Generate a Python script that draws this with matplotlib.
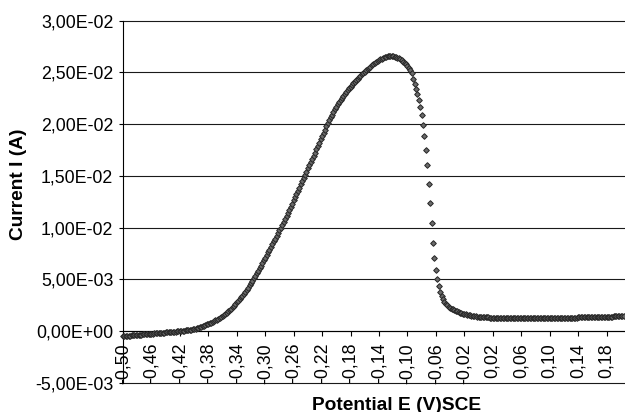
import numpy as np
import matplotlib
matplotlib.use("Agg")
import matplotlib.pyplot as plt

plt.rcParams['font.family'] = ['Liberation Sans', 'DejaVu Sans']

# Potential sweep: start and step of the recorded grid (V)
E_START = -0.500
E_STEP = 0.002

# Current, in mA (one value per sweep point)
current_mA = [
    # -0.500 .. -0.402
    -0.50, -0.49, -0.48, -0.46, -0.45, -0.44, -0.43, -0.42, -0.40, -0.39,
    -0.38, -0.37, -0.36, -0.34, -0.33, -0.32, -0.31, -0.30, -0.28, -0.27,
    -0.26, -0.25, -0.24, -0.22, -0.21, -0.20, -0.19, -0.18, -0.16, -0.15,
    -0.14, -0.13, -0.12, -0.10, -0.09, -0.08, -0.07, -0.05, -0.04, -0.03,
    -0.01, 0.01, 0.02, 0.04, 0.06, 0.08, 0.10, 0.12, 0.14, 0.17,
    # -0.400 .. -0.302
    0.20, 0.24, 0.28, 0.32, 0.37, 0.42, 0.47, 0.53, 0.58, 0.64,
    0.70, 0.76, 0.82, 0.88, 0.95, 1.02, 1.10, 1.18, 1.27, 1.36,
    1.45, 1.55, 1.66, 1.78, 1.90, 2.02, 2.16, 2.30, 2.45, 2.60,
    2.76, 2.92, 3.08, 3.25, 3.43, 3.62, 3.81, 4.00, 4.20, 4.41,
    4.62, 4.85, 5.08, 5.32, 5.57, 5.82, 6.07, 6.32, 6.57, 6.82,
    # -0.300 .. -0.202
    7.08, 7.34, 7.60, 7.87, 8.13, 8.40, 8.66, 8.93, 9.19, 9.46,
    9.72, 10.00, 10.28, 10.56, 10.84, 11.12, 11.42, 11.72, 12.02, 12.32,
    12.62, 12.93, 13.24, 13.56, 13.87, 14.18, 14.49, 14.80, 15.10, 15.41,
    15.72, 16.03, 16.33, 16.64, 16.94, 17.25, 17.57, 17.89, 18.21, 18.53,
    18.85, 19.16, 19.47, 19.78, 20.08, 20.38, 20.66, 20.93, 21.19, 21.44,
    # -0.200 .. -0.102
    21.68, 21.91, 22.13, 22.34, 22.54, 22.74, 22.93, 23.11, 23.29, 23.46,
    23.62, 23.78, 23.94, 24.09, 24.24, 24.38, 24.52, 24.66, 24.80, 24.94,
    25.08, 25.21, 25.33, 25.45, 25.57, 25.68, 25.79, 25.89, 25.99, 26.09,
    26.18, 26.26, 26.34, 26.41, 26.48, 26.53, 26.57, 26.60, 26.61, 26.60,
    26.57, 26.53, 26.48, 26.42, 26.35, 26.26, 26.16, 26.04, 25.91, 25.77,
    # -0.100 .. -0.002
    25.61, 25.44, 25.25, 24.90, 24.40, 23.90, 23.40, 22.90, 22.30, 21.62,
    20.85, 19.95, 18.85, 17.50, 16.00, 14.25, 12.35, 10.40, 8.55, 7.05,
    5.90, 5.05, 4.35, 3.80, 3.38, 3.05, 2.80, 2.62, 2.48, 2.36,
    2.26, 2.17, 2.09, 2.02, 1.95, 1.89, 1.83, 1.78, 1.73, 1.68,
    1.64, 1.60, 1.57, 1.54, 1.51, 1.49, 1.46, 1.44, 1.42, 1.40,
    # 0.000 .. 0.098
    1.38, 1.37, 1.36, 1.35, 1.34, 1.33, 1.32, 1.31, 1.30, 1.30,
    1.29, 1.29, 1.28, 1.28, 1.27, 1.27, 1.27, 1.26, 1.26, 1.26,
    1.26, 1.25, 1.25, 1.25, 1.25, 1.25, 1.25, 1.25, 1.25, 1.25,
    1.25, 1.25, 1.25, 1.25, 1.25, 1.25, 1.25, 1.25, 1.25, 1.25,
    1.25, 1.25, 1.25, 1.25, 1.26, 1.26, 1.26, 1.26, 1.26, 1.26,
    # 0.100 .. 0.204
    1.26, 1.26, 1.26, 1.27, 1.27, 1.27, 1.27, 1.27, 1.28, 1.28,
    1.28, 1.28, 1.28, 1.29, 1.29, 1.29, 1.29, 1.30, 1.30, 1.30,
    1.31, 1.31, 1.31, 1.32, 1.32, 1.32, 1.33, 1.33, 1.33, 1.34,
    1.34, 1.35, 1.35, 1.35, 1.36, 1.36, 1.37, 1.37, 1.38, 1.38,
    1.38, 1.39, 1.39, 1.40, 1.40, 1.41, 1.41, 1.41, 1.42, 1.42,
    1.43, 1.43, 1.43,
]

x_ticks = [-0.50, -0.46, -0.42, -0.38, -0.34, -0.30, -0.26, -0.22, -0.18,
           -0.14, -0.10, -0.06, -0.02, 0.02, 0.06, 0.10, 0.14, 0.18]
x_tick_labels = ["-0,50", "-0,46", "-0,42", "-0,38", "-0,34", "-0,30", "-0,26",
                 "-0,22", "-0,18", "-0,14", "-0,10", "-0,06", "-0,02", "0,02",
                 "0,06", "0,10", "0,14", "0,18"]
y_ticks = [-0.005, 0.0, 0.005, 0.010, 0.015, 0.020, 0.025, 0.030]
y_tick_labels = ["-5,00E-03", "0,00E+00", "5,00E-03", "1,00E-02", "1,50E-02",
                 "2,00E-02", "2,50E-02", "3,00E-02"]

E = E_START + E_STEP * np.arange(len(current_mA))
I = np.array(current_mA) * 1e-3

W, H = 625, 412
fig = plt.figure(figsize=(W / 100, H / 100), dpi=100)
ax = fig.add_axes([123 / W, (H - 382.7) / H, 1 - 123 / W, (382.7 - 20.7) / H])

ax.set_xlim(-0.50, 0.206)
ax.set_ylim(-0.005, 0.030)

for yv in y_ticks:
    ax.axhline(yv, color='#1a1a1a', lw=0.8, clip_on=False, zorder=1)

ax.plot(E, I, linestyle='none', marker='D', markersize=2.9,
        markerfacecolor='#6a6a6a', markeredgecolor='#262626',
        markeredgewidth=0.7, clip_on=False, zorder=3)

for s in ['top', 'right']:
    ax.spines[s].set_visible(False)
ax.spines['bottom'].set_position(('data', 0.0))
ax.spines['bottom'].set_linewidth(0.8)
ax.spines['left'].set_linewidth(0.8)

ax.set_xticks(x_ticks)
ax.set_xticklabels(x_tick_labels, rotation=90, fontsize=12.8)
ax.set_yticks(y_ticks)
ax.set_yticklabels(y_tick_labels, fontsize=12.8)
ax.tick_params(axis='x', direction='out', length=3.6, width=0.8, pad=5)
ax.tick_params(axis='y', direction='out', length=3, width=0.8, pad=4)
for lbl in ax.get_xticklabels():
    lbl.set_verticalalignment('top')

fig.text(19 / W, 1 - 184 / H, "Current I (A)", rotation=90, fontsize=13.8,
         fontweight='bold', ha='center', va='center')
fig.text(397 / W, (H - 409.5) / H, "Potential E (V)SCE", fontsize=13.8,
         fontweight='bold', ha='center', va='baseline')

fig.savefig("out.png", dpi=100)
